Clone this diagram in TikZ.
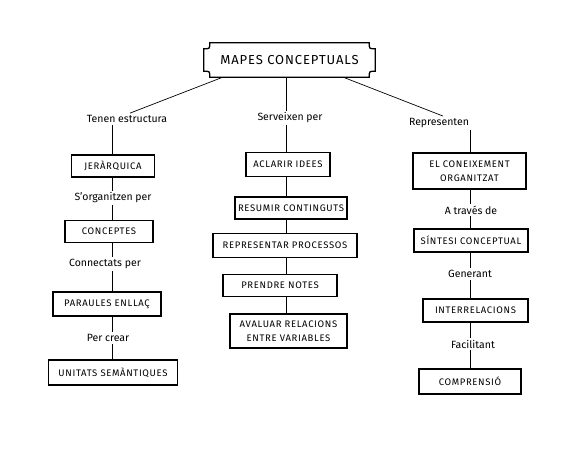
\documentclass[tikz,border=0pt]{standalone}
\usepackage{fontspec}
\setmainfont{Fira Sans}
\newfontfamily\capsfont[LetterSpace=7]{Fira Sans}
\begin{document}
\begin{tikzpicture}[x=1pt, y=-1pt,
  box/.style={draw, line width=1.1pt, minimum width=#1, minimum height=22pt,
              inner sep=2pt, align=center, font=\capsfont\fontsize{9.5}{14}\selectfont},
  lab/.style={inner sep=2pt, font=\fontsize{10.5}{12}\selectfont},
  link/.style={line width=0.7pt}
]
  \useasboundingbox (0,0) rectangle (576,471);
  \coordinate (colL) at (112,0);
  \coordinate (colM) at (286,0);
  \coordinate (colR) at (470,0);

  % --- Titre ---
  \node[minimum width=171pt, minimum height=34pt, inner sep=0pt,
        font=\capsfont\fontsize{13}{15}\selectfont] (title) at (289.5,60) {MAPES CONCEPTUALS};
  \draw[line width=1.3pt]
    ([xshift=6pt]title.north west) -- ([xshift=-6pt]title.north east)
    .. controls ([xshift=-6pt,yshift=-6pt]title.north east) .. ([yshift=-6pt]title.north east)
    -- ([yshift=6pt]title.south east)
    .. controls ([xshift=-6pt,yshift=6pt]title.south east) .. ([xshift=-6pt]title.south east)
    -- ([xshift=6pt]title.south west)
    .. controls ([xshift=6pt,yshift=6pt]title.south west) .. ([yshift=6pt]title.south west)
    -- ([yshift=-6pt]title.north west)
    .. controls ([xshift=6pt,yshift=-6pt]title.north west) .. cycle;

  % --- Branche gauche ---
  \node[lab] (tenen) at (127,119) {Tenen estructura};
  \node[box=83pt]  (jer)  at (113,166)   {JERÀRQUICA};
  \node[lab] (organ) at (113,198) {S'organitzen per};
  \node[box=88pt]  (conc) at (109,231.5) {CONCEPTES};
  \node[lab] (connec) at (105,264) {Connectats per};
  \node[box=108pt, minimum height=24pt] (par) at (107,304) {PARAULES ENLLAÇ};
  \node[lab] (crear) at (108,338) {Per crear};
  \node[box=129pt, minimum height=25pt] (uni) at (113,372.5) {UNITATS SEMÀNTIQUES};

  \draw[link] ([xshift=19pt]title.south west) -- ([xshift=3pt]tenen.north);
  \draw[link] (tenen.south -| colL) -- (jer.north -| colL);
  \draw[link] (jer.south -| colL) -- (organ.north -| colL);
  \draw[link] (organ.south -| colL) -- (conc.north -| colL);
  \draw[link] (conc.south -| colL) -- (connec.north -| colL);
  \draw[link] (connec.south -| colL) -- (par.north -| colL);
  \draw[link] (par.south -| colL) -- (crear.north -| colL);
  \draw[link] (crear.south -| colL) -- (uni.north -| colL);

  % --- Branche centrale ---
  \node[lab] (serv) at (290,118) {Serveixen per};
  \node[box=84pt, minimum height=24pt]  (acl) at (288,164.5) {ACLARIR IDEES};
  \node[box=112pt] (res) at (291,208)   {RESUMIR CONTINGUTS};
  \node[box=144pt, minimum height=24pt] (rep) at (285,245.5) {REPRESENTAR PROCESSOS};
  \node[box=114pt] (pre) at (280,285.5) {PRENDRE NOTES};
  \node[box=117pt, minimum height=34pt] (ava) at (288.5,331) {AVALUAR RELACIONS\\ENTRE VARIABLES};

  \draw[link] (title.south -| colM) -- (serv.north -| colM);
  \draw[link] (serv.south -| colM) -- (acl.north -| colM);
  \draw[link] (acl.south -| colM) -- (res.north -| colM);
  \draw[link] (res.south -| colM) -- (rep.north -| colM);
  \draw[link] (rep.south -| colM) -- (pre.north -| colM);
  \draw[link] (pre.south -| colM) -- (ava.north -| colM);

  % --- Branche droite ---
  \node[lab] (repr) at (439,123) {Representen};
  \node[box=113pt, minimum height=36pt] (con) at (469.5,171) {EL CONEIXEMENT\\ORGANITZAT};
  \node[lab] (trav) at (471,210) {A través de};
  \node[box=114pt, minimum height=23pt] (sin) at (471,240.5) {SÍNTESI CONCEPTUAL};
  \node[lab] (gen) at (470,274) {Generant};
  \node[box=105pt, minimum height=23pt] (inter) at (475.5,310.5) {INTERRELACIONS};
  \node[lab] (fac) at (473,344) {Facilitant};
  \node[box=102pt, minimum height=25pt] (comp) at (470,381.5) {COMPRENSIÓ};

  \draw[link] ([xshift=-32pt]title.south east) -- ([xshift=4pt]repr.north);
  \draw[link] (repr.south -| colR) -- (con.north -| colR);
  \draw[link] (con.south -| colR) -- (trav.north -| colR);
  \draw[link] (trav.south -| colR) -- (sin.north -| colR);
  \draw[link] (sin.south -| colR) -- (gen.north -| colR);
  \draw[link] (gen.south -| colR) -- (inter.north -| colR);
  \draw[link] (inter.south -| colR) -- (fac.north -| colR);
  \draw[link] (fac.south -| colR) -- (comp.north -| colR);
\end{tikzpicture}
\end{document}
